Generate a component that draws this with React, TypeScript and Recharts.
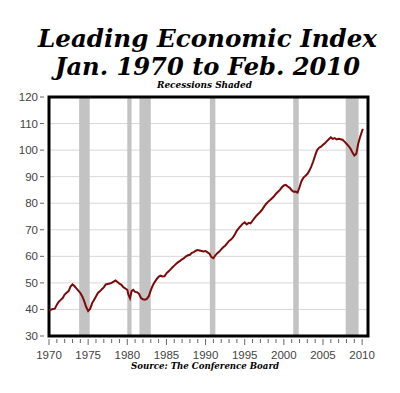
import { LineChart, Line, XAxis, YAxis, CartesianGrid, ReferenceArea } from 'recharts'

const years = [
  1970.0, 1970.25, 1970.5, 1970.75, 1971.0, 1971.25, 1971.5, 1971.75, 1972.0, 1972.25, 1972.5, 1972.75,
  1973.0, 1973.25, 1973.5, 1973.75, 1974.0, 1974.25, 1974.5, 1974.75, 1975.0, 1975.25, 1975.5, 1975.75,
  1976.0, 1976.25, 1976.5, 1976.75, 1977.0, 1977.25, 1977.5, 1977.75, 1978.0, 1978.25, 1978.5, 1978.75,
  1979.0, 1979.25, 1979.5, 1979.75, 1980.0, 1980.15, 1980.35, 1980.55, 1980.75, 1981.0, 1981.25, 1981.5,
  1981.75, 1982.0, 1982.25, 1982.5, 1982.75, 1983.0, 1983.25, 1983.5, 1983.75, 1984.0, 1984.25, 1984.5,
  1984.75, 1985.0, 1985.25, 1985.5, 1985.75, 1986.0, 1986.25, 1986.5, 1986.75, 1987.0, 1987.25, 1987.5,
  1987.75, 1988.0, 1988.25, 1988.5, 1988.75, 1989.0, 1989.25, 1989.5, 1989.75, 1990.0, 1990.25, 1990.5,
  1990.75, 1991.0, 1991.25, 1991.5, 1991.75, 1992.0, 1992.25, 1992.5, 1992.75, 1993.0, 1993.25, 1993.5,
  1993.75, 1994.0, 1994.25, 1994.5, 1994.75, 1995.0, 1995.25, 1995.5, 1995.75, 1996.0, 1996.25, 1996.5,
  1996.75, 1997.0, 1997.25, 1997.5, 1997.75, 1998.0, 1998.25, 1998.5, 1998.75, 1999.0, 1999.25, 1999.5,
  1999.75, 2000.0, 2000.25, 2000.5, 2000.75, 2001.0, 2001.25, 2001.5, 2001.75, 2002.0, 2002.25, 2002.5,
  2002.75, 2003.0, 2003.25, 2003.5, 2003.75, 2004.0, 2004.25, 2004.5, 2004.75, 2005.0, 2005.25, 2005.5,
  2005.75, 2006.0, 2006.25, 2006.5, 2006.75, 2007.0, 2007.25, 2007.5, 2007.75, 2008.0, 2008.25, 2008.5,
  2008.75, 2009.0, 2009.25, 2009.5, 2009.75, 2010.0, 2010.1,
]

const lei = [
  39.8, 39.9, 40.2, 40.3, 41.8, 42.9, 43.6, 44.3, 45.6, 46.3, 46.9, 48.6,
  49.4, 48.8, 47.9, 47.1, 46.2, 44.9, 43.1, 40.9, 39.4, 40.2, 42.3, 43.6,
  44.9, 46.2, 46.8, 47.6, 48.3, 49.4, 49.6, 49.8, 50.0, 50.5, 50.9, 50.3,
  49.7, 49.3, 48.4, 47.9, 47.4, 45.6, 44.2, 46.9, 47.4, 46.6, 46.5, 45.9,
  44.3, 43.8, 43.7, 44.0, 45.0, 47.2, 49.0, 50.3, 51.4, 52.3, 52.7, 52.4,
  52.5, 53.6, 54.3, 55.0, 55.8, 56.5, 57.2, 57.8, 58.3, 58.9, 59.3, 60.0,
  60.4, 60.6, 61.3, 61.6, 62.1, 62.4, 62.2, 62.0, 61.8, 62.0, 61.5, 61.0,
  59.7, 59.3, 60.4, 61.2, 61.8, 62.6, 63.4, 64.0, 64.9, 65.8, 66.3, 67.1,
  68.3, 69.7, 70.6, 71.5, 72.3, 72.8, 72.0, 72.6, 72.4, 73.4, 74.4, 75.3,
  76.0, 76.8, 77.7, 78.8, 79.8, 80.6, 81.2, 81.9, 82.6, 83.6, 84.3, 85.0,
  86.0, 86.7, 86.9, 86.3, 85.8, 84.9, 84.3, 84.4, 84.0, 86.0, 88.3, 89.6,
  90.3, 91.0, 92.2, 93.8, 95.7, 98.0, 100.0, 100.9, 101.3, 102.0, 102.6, 103.4,
  104.1, 104.8, 104.2, 104.5, 104.0, 104.3, 104.1, 103.9, 103.2, 102.4, 101.6, 100.6,
  99.2, 98.0, 98.6, 102.4, 105.0, 107.3, 108.0,
]

// recession start / end (decimal years)
const recessionStart = [1973.85, 1980.0, 1981.55, 1990.55, 2001.2, 2007.9]
const recessionEnd = [1975.2, 1980.55, 1983.0, 1991.25, 2001.9, 2009.55]

const yTicks = [30, 40, 50, 60, 70, 80, 90, 100, 110, 120]
const xTicks = Array.from({ length: 41 }, (_, i) => 1970 + i)

const data = years.map((year, i) => ({ year, lei: lei[i] }))

const YTick = ({ x, y, payload }: any) => (
  <g>
    <line x1={x - 9} x2={x - 5} y1={y} y2={y} stroke="#666" />
    <text x={x - 11} y={y + 4} textAnchor="end" fontSize={11.5} fill="#444" fontFamily="Liberation Sans, Arial, sans-serif">
      {payload.value}
    </text>
  </g>
)

const XTick = ({ x, y, payload }: any) => {
  const major = payload.value % 5 === 0
  return (
    <g>
      <line x1={x} x2={x} y1={y + 3} y2={y + (major ? 9 : 7)} stroke="#666" />
      {major && (
        <text x={x} y={y + 23} textAnchor="middle" fontSize={11.5} fill="#444" fontFamily="Liberation Sans, Arial, sans-serif">
          {payload.value}
        </text>
      )}
    </g>
  )
}

const serif = 'DejaVu Serif, serif'

export default function App() {
  return (
    <div style={{ position: 'absolute', left: 0, top: 0, width: 400, height: 393, background: '#fff' }}>
      <LineChart width={400} height={393} data={data} margin={{ top: 97, right: 32, left: 0, bottom: 27 }}>
        <CartesianGrid horizontal vertical={false} stroke="#d8d8d8" strokeWidth={1} />
        {recessionStart.map((s, i) => (
          <ReferenceArea key={i} x1={s} x2={recessionEnd[i]} y1={30} y2={120} fill="#c3c3c3" fillOpacity={1} stroke="none" />
        ))}
        <XAxis type="number" dataKey="year" domain={[1970, 2010.75]} ticks={xTicks} interval={0}
          axisLine={false} tickLine={false} tickSize={0} tickMargin={0} height={30} tick={<XTick />} allowDataOverflow />
        <YAxis type="number" domain={[30, 120]} ticks={yTicks} width={49}
          axisLine={false} tickLine={false} tickSize={0} tickMargin={0} tick={<YTick />} allowDataOverflow />
        <Line type="linear" dataKey="lei" stroke="#7d0a0a" strokeWidth={2} dot={false} isAnimationActive={false} />
        <ReferenceArea x1={1970} x2={2010.75} y1={30} y2={120} fill="none" stroke="#000" strokeWidth={3} />
      </LineChart>
      <svg width={400} height={393} style={{ position: 'absolute', left: 0, top: 0, pointerEvents: 'none' }}>
        <text x={207.5} y={47} textAnchor="middle" fontFamily={serif} fontWeight="bold" fontStyle="italic" fontSize={25}
          textLength={339} lengthAdjust="spacingAndGlyphs">Leading Economic Index</text>
        <text x={207.5} y={75} textAnchor="middle" fontFamily={serif} fontWeight="bold" fontStyle="italic" fontSize={25}
          textLength={305} lengthAdjust="spacingAndGlyphs">Jan. 1970 to Feb. 2010</text>
        <text x={204.5} y={88} textAnchor="middle" fontFamily={serif} fontWeight="bold" fontStyle="italic" fontSize={9}
          textLength={95} lengthAdjust="spacingAndGlyphs">Recessions Shaded</text>
        <text x={205} y={369} textAnchor="middle" fontFamily={serif} fontWeight="bold" fontStyle="italic" fontSize={10}
          textLength={148} lengthAdjust="spacingAndGlyphs">Source: The Conference Board</text>
      </svg>
    </div>
  )
}
